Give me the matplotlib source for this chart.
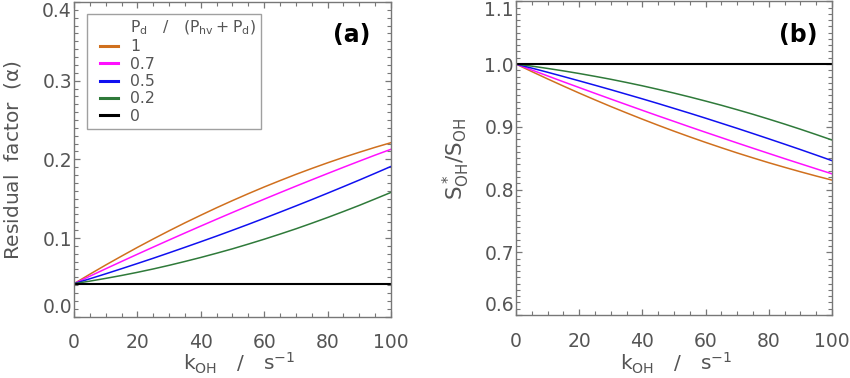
import matplotlib
matplotlib.use("Agg")
import matplotlib.pyplot as plt
from matplotlib.ticker import MultipleLocator, FormatStrFormatter
from matplotlib.lines import Line2D
from matplotlib.legend_handler import HandlerLine2D

# ---------------- data ----------------
k_oh = [0, 5, 10, 15, 20, 25, 30, 35, 40, 45, 50,
        55, 60, 65, 70, 75, 80, 85, 90, 95, 100]
fractions = ["1", "0.7", "0.5", "0.2", "0"]

# panel (a): residual factor alpha
alpha_1 = [0.0420, 0.0540, 0.0657, 0.0770, 0.0881, 0.0988, 0.1092, 0.1193, 0.1290, 0.1385,
           0.1476, 0.1564, 0.1649, 0.1730, 0.1809, 0.1884, 0.1956, 0.2025, 0.2090, 0.2153,
           0.2212]
alpha_07 = [0.0420, 0.0515, 0.0609, 0.0702, 0.0794, 0.0885, 0.0975, 0.1064, 0.1152, 0.1239,
            0.1325, 0.1410, 0.1494, 0.1577, 0.1659, 0.1740, 0.1820, 0.1899, 0.1977, 0.2054,
            0.2128]
alpha_05 = [0.0420, 0.0482, 0.0545, 0.0610, 0.0676, 0.0743, 0.0812, 0.0882, 0.0953, 0.1025,
            0.1099, 0.1174, 0.1251, 0.1329, 0.1408, 0.1488, 0.1570, 0.1653, 0.1737, 0.1823,
            0.1910]
alpha_02 = [0.0420, 0.0452, 0.0487, 0.0524, 0.0564, 0.0607, 0.0653, 0.0702, 0.0753, 0.0807,
            0.0863, 0.0923, 0.0985, 0.1050, 0.1117, 0.1188, 0.1261, 0.1337, 0.1415, 0.1497,
            0.1580]
alpha_0 = [0.042] * 21

# panel (b): S*_OH / S_OH
ratio_1 = [1.0000, 0.9880, 0.9763, 0.9649, 0.9537, 0.9429, 0.9323, 0.9221, 0.9121, 0.9024,
           0.8930, 0.8839, 0.8751, 0.8666, 0.8583, 0.8504, 0.8427, 0.8354, 0.8283, 0.8215,
           0.8150]
ratio_07 = [1.0000, 0.9905, 0.9811, 0.9717, 0.9625, 0.9533, 0.9442, 0.9352, 0.9262, 0.9173,
            0.9086, 0.8998, 0.8912, 0.8827, 0.8742, 0.8658, 0.8575, 0.8492, 0.8411, 0.8330,
            0.8250]
ratio_05 = [1.0000, 0.9935, 0.9869, 0.9801, 0.9732, 0.9662, 0.9591, 0.9518, 0.9445, 0.9370,
            0.9293, 0.9216, 0.9137, 0.9056, 0.8975, 0.8892, 0.8808, 0.8723, 0.8637, 0.8549,
            0.8460]
ratio_02 = [1.0000, 0.9967, 0.9930, 0.9891, 0.9849, 0.9804, 0.9757, 0.9706, 0.9653, 0.9596,
            0.9537, 0.9475, 0.9410, 0.9343, 0.9272, 0.9199, 0.9122, 0.9043, 0.8961, 0.8876,
            0.8789]
ratio_0 = [1.0] * 21

alpha_series = [alpha_1, alpha_07, alpha_05, alpha_02, alpha_0]
ratio_series = [ratio_1, ratio_07, ratio_05, ratio_02, ratio_0]

# ---------------- style ----------------
colors = ["#D0701E", "#FF10FF", "#1010F0", "#2F7A3A", "#000000"]
widths = [1.1, 1.1, 1.1, 1.1, 1.5]
gray = "#555555"
spine_gray = "#777777"

plt.rcParams["font.family"] = ["DejaVu Sans"]
plt.rcParams["mathtext.default"] = "regular"

fig = plt.figure(figsize=(8.5, 3.78), dpi=100)
ax_a = fig.add_axes([74 / 850, 61.3 / 378, 317 / 850, 314.7 / 378])
ax_b = fig.add_axes([516 / 850, 63 / 378, 316 / 850, 313.7 / 378])


def style_axis(ax, ylim, ymajor, yminor):
    ax.set_xlim(0, 100)
    ax.set_ylim(*ylim)
    ax.xaxis.set_major_locator(MultipleLocator(20))
    ax.xaxis.set_minor_locator(MultipleLocator(5))
    ax.yaxis.set_major_locator(MultipleLocator(ymajor))
    ax.yaxis.set_minor_locator(MultipleLocator(yminor))
    ax.yaxis.set_major_formatter(FormatStrFormatter("%.1f"))
    for sp in ax.spines.values():
        sp.set_color(spine_gray)
        sp.set_linewidth(1.0)
    ax.tick_params(which="both", direction="in", top=True, right=True,
                   colors=spine_gray, labelcolor=gray, labelsize=13.5)
    ax.tick_params(which="major", length=4.5, width=0.9)
    ax.tick_params(which="minor", length=2.6, width=0.8)
    ax.tick_params(axis="x", which="major", pad=12)
    ax.tick_params(axis="y", which="major", pad=1.5)


style_axis(ax_a, (0, 0.4), 0.1, 0.01)
style_axis(ax_b, (0.6, 1.1), 0.1, 0.01)

handles = []
for ys, c, lw, lab in zip(alpha_series, colors, widths, fractions):
    ax_a.plot(k_oh, ys, color=c, lw=lw, label=lab, solid_joinstyle="round")
    handles.append(Line2D([], [], color=c, lw=2.2))
for ys, c, lw in zip(ratio_series, colors, widths):
    ax_b.plot(k_oh, ys, color=c, lw=lw, solid_joinstyle="round")

# nudge end tick labels inside like the original
fig.canvas.draw()
for ax in (ax_a, ax_b):
    lo, hi = ax.get_ylim()
    for t, v in zip(ax.yaxis.get_major_ticks(), ax.yaxis.get_majorticklocs()):
        if abs(v - lo) < 1e-9:
            t.label1.set_va("bottom")
        elif abs(v - hi) < 1e-9:
            t.label1.set_va("top")

# legend
title_handle = Line2D([], [], color="none")
leg = ax_a.legend([title_handle] + handles,
                  [r"$P_d\ \ \ /\ \ \ (P_{hv}+P_d)$"] + fractions,
                  handler_map={Line2D: HandlerLine2D(xpad=0.5)},
                  loc="upper left", bbox_to_anchor=(0.041, 0.962),
                  fontsize=11.3, frameon=True, fancybox=False,
                  handlelength=1.65, handletextpad=0.8, labelspacing=0.15,
                  borderpad=0.3, borderaxespad=0.0)
leg.get_frame().set_edgecolor("#888888")
leg.get_frame().set_linewidth(1.0)
for t in leg.get_texts():
    t.set_color(gray)

# panel labels
ax_a.text(0.877, 0.895, "(a)", transform=ax_a.transAxes, ha="center", va="center",
          fontsize=17, fontweight="bold", color="black")
ax_b.text(0.892, 0.893, "(b)", transform=ax_b.transAxes, ha="center", va="center",
          fontsize=17, fontweight="bold", color="black")

# axis labels
fig.text(13 / 850, 1 - 160 / 378, r"Residual  factor  ($\alpha$)", rotation=90,
         ha="center", va="center", fontsize=14.5, color=gray)
fig.text(456 / 850, 1 - 159 / 378, r"$S^*_{OH}/S_{OH}$", rotation=90,
         ha="center", va="center", fontsize=15.5, color=gray)
fig.text(239 / 850, 1 - 371 / 378, r"$k_{OH}\ \ \ /\ \ \ s^{-1}$",
         ha="center", va="baseline", fontsize=14.5, color=gray)
fig.text(676 / 850, 1 - 371 / 378, r"$k_{OH}\ \ \ /\ \ \ s^{-1}$",
         ha="center", va="baseline", fontsize=14.5, color=gray)

fig.savefig("out.png", dpi=100)
